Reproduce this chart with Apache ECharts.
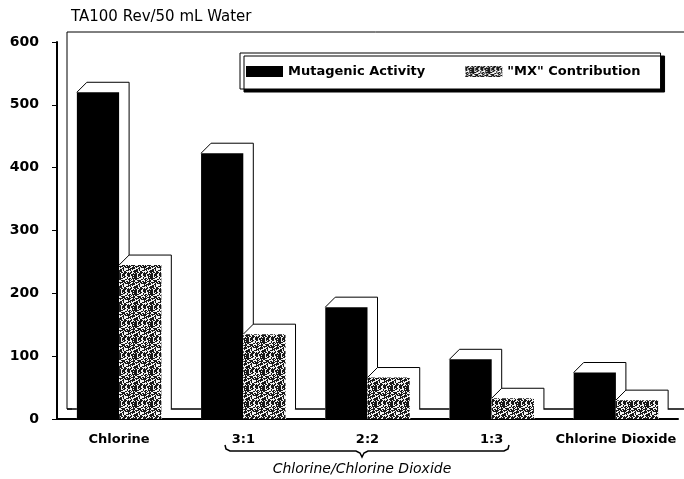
<!DOCTYPE html>
<html>
<head>
<meta charset="utf-8">
<script src="https://cdn.jsdelivr.net/npm/echarts@6/dist/echarts.min.js"></script>
<style>
  html, body { margin: 0; padding: 0; background: #fff; }
  #main { width: 684px; height: 479px; }
</style>
</head>
<body>
<div id="main"></div>
<script>
var categories = ['Chlorine', '3:1', '2:2', '1:3', 'Chlorine Dioxide'];
var mutagenic = [520, 423, 178, 95, 74];
var mxContribution = [245, 135, 66, 33, 30];
var seriesNames = ['Mutagenic Activity', '"MX" Contribution'];
var yTitle = 'TA100 Rev/50 mL Water';
var groupTitle = 'Chlorine/Chlorine Dioxide';

// speckled grey fill, like the printed screen tone
function makeHatch(){
    var n = 16;
    var c = document.createElement('canvas');
    c.width = n; c.height = n;
    var ctx = c.getContext('2d');
    var img = ctx.createImageData(n, n);
    for (var y = 0; y < n; y++) {
        for (var x = 0; x < n; x++) {
            var h = ((x * 37 + y * 91) ^ (x * y * 13)) % 10;
            var dark = h < 5 || (x + 2 * y) % 7 == 0;
            var v = dark ? 25 : 240;
            var p = (y * n + x) * 4;
            img.data[p] = v; img.data[p + 1] = v; img.data[p + 2] = v; img.data[p + 3] = 255;
        }
    }
    ctx.putImageData(img, 0, 0);
    return c;
}
var hatch = { image: makeHatch(), repeat: 'repeat' };
var fills = ['#000', hatch];

// bar with a hollow 3D box behind it
function renderBar(params, api){
    var idx = api.value(0);
    var top = api.coord([idx, api.value(1)]);
    var base = api.coord([idx, 0]);
    var band = api.size([1, 0])[0];
    var w = band * 0.34;
    var d = 10;
    var x0 = params.seriesIndex == 0 ? top[0] - w : top[0];
    var x1 = x0 + w;
    return {
        type: 'group',
        children: [
            {
                type: 'polygon',
                shape: { points: [[x0, top[1]], [x0 + d, top[1] - d], [x1 + d, top[1] - d], [x1 + d, base[1] - d], [x1, base[1]], [x0, base[1]]] },
                style: { fill: '#fff' }
            },
            {
                type: 'polyline',
                shape: { points: [[x0, top[1]], [x0 + d, top[1] - d], [x1 + d, top[1] - d], [x1 + d, base[1] - d]] },
                style: { fill: null, stroke: '#000', lineWidth: 1 }
            },
            {
                type: 'rect',
                shape: { x: x0, y: top[1], width: w, height: base[1] - top[1] },
                style: { fill: fills[params.seriesIndex] }
            }
        ]
    };
}

function toData(values){
    var out = [];
    for (var i = 0; i < values.length; i++) {
        out.push([i, values[i]]);
    }
    return out;
}

var chart = echarts.init(document.getElementById('main'));

var option = {
    backgroundColor: '#fff',
    animation: false,
    title: {
        text: yTitle,
        left: 66,
        top: 5,
        textStyle: { fontFamily: 'DejaVu Sans', fontSize: 15, fontWeight: 'normal', color: '#000' }
    },
    legend: {
        left: 240,
        top: 53,
        padding: [12, 20, 11, 6],
        itemGap: 40,
        itemWidth: 37,
        itemHeight: 11,
        icon: 'rect',
        backgroundColor: '#fff',
        borderColor: '#000',
        borderWidth: 1,
        shadowColor: '#000',
        shadowBlur: 0,
        shadowOffsetX: 4,
        shadowOffsetY: 3,
        textStyle: { fontFamily: 'DejaVu Sans', fontSize: 13, fontWeight: 'bold', color: '#000' },
        data: [
            { name: seriesNames[0], itemStyle: { color: '#000' } },
            { name: seriesNames[1], itemStyle: { color: hatch } }
        ]
    },
    grid: { left: 57, right: 6, top: 42, bottom: 60 },
    xAxis: {
        type: 'category',
        data: categories,
        axisLine: { lineStyle: { color: '#000', width: 2 } },
        axisTick: { alignWithLabel: true, length: 3, lineStyle: { color: '#000' } },
        axisLabel: { interval: 0, hideOverlap: false, margin: 14, color: '#000', fontFamily: 'DejaVu Sans', fontSize: 13, fontWeight: 'bold' }
    },
    yAxis: {
        type: 'value',
        min: 0,
        max: 600,
        interval: 100,
        axisLine: { show: true, lineStyle: { color: '#000', width: 2 } },
        axisTick: { show: true, length: 5, lineStyle: { color: '#000' } },
        splitLine: { show: false },
        axisLabel: { margin: 18, color: '#000', fontFamily: 'DejaVu Sans', fontSize: 14, fontWeight: 'bold' }
    },
    graphic: [
        // back wall and floor of the box
        { type: 'polyline', z: 0, shape: { points: [[684, 32], [67, 32], [67, 409], [72, 409]] }, style: { fill: null, stroke: '#000', lineWidth: 1 } },
        { type: 'line', z: 0, shape: { x1: 67, y1: 409, x2: 684, y2: 409 }, style: { stroke: '#000', lineWidth: 1.5 } },
        // brace under the mixtures
        { type: 'polyline', z: 5, shape: { points: [[225, 445], [226, 449], [230, 451], [356, 451], [360, 453], [362, 457], [364, 453], [368, 451], [504, 451], [508, 449], [509, 445]] }, style: { fill: null, stroke: '#000', lineWidth: 1.5 } },
        { type: 'text', z: 5, style: { text: groupTitle, x: 362, y: 462, textAlign: 'center', font: 'italic 14px "DejaVu Sans"', fill: '#000' } }
    ],
    series: [
        { name: seriesNames[0], type: 'custom', renderItem: renderBar, itemStyle: { color: '#000' }, data: toData(mutagenic) },
        { name: seriesNames[1], type: 'custom', renderItem: renderBar, itemStyle: { color: '#888' }, data: toData(mxContribution) }
    ]
};

chart.setOption(option);
</script>
</body>
</html>
